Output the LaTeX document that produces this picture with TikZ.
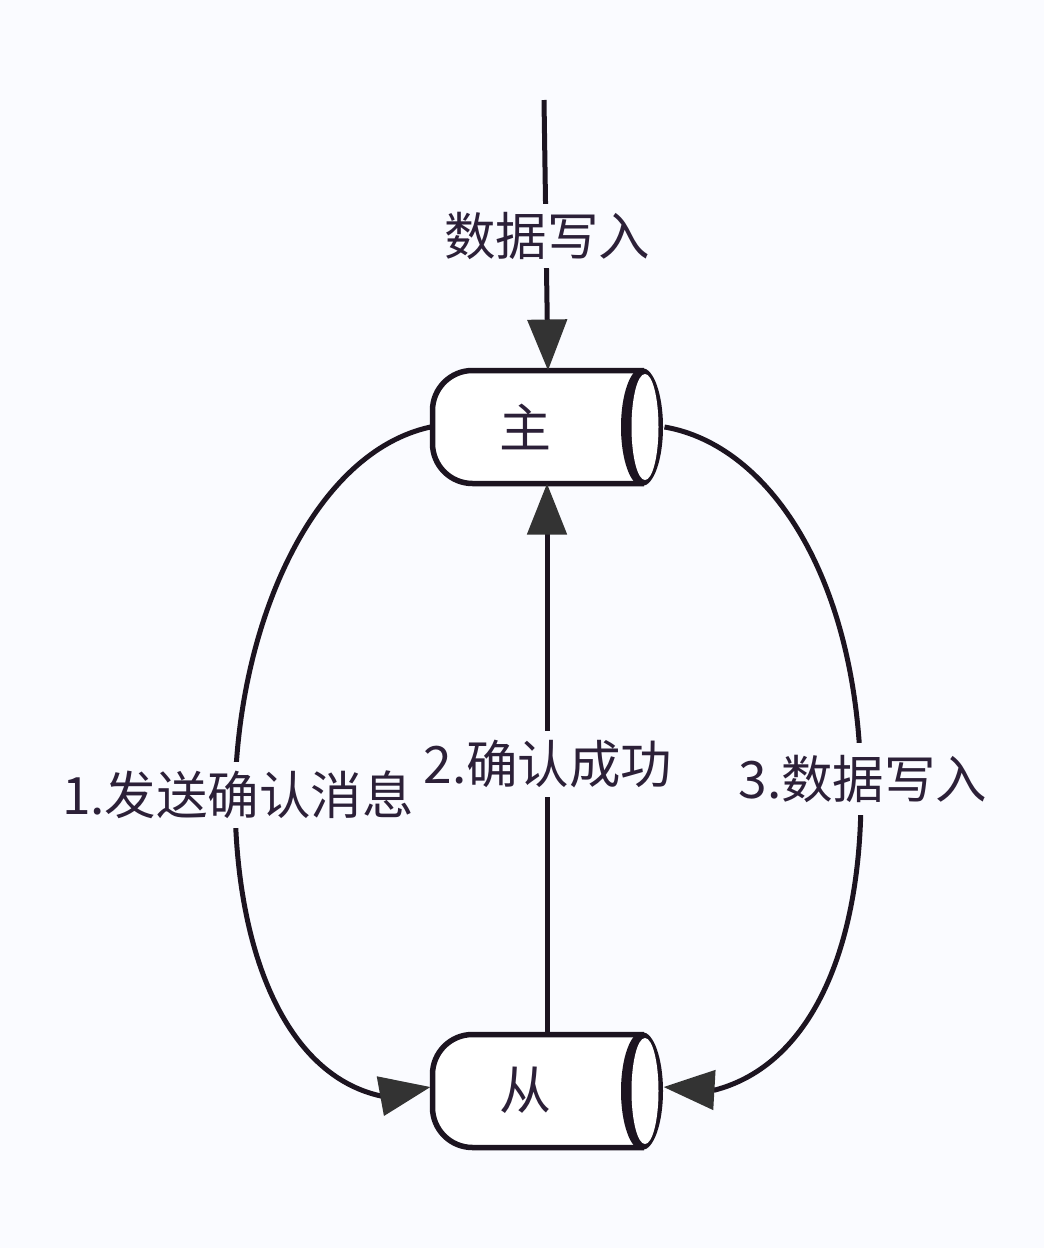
\documentclass[tikz,border=0pt]{standalone}
\usepackage{fontspec}
\setmainfont{Noto Sans CJK SC}
\usetikzlibrary{arrows.meta}
\definecolor{bgc}{HTML}{FAFBFF}
\definecolor{ink}{HTML}{1C1420}
\definecolor{headc}{HTML}{333333}
\definecolor{txt}{HTML}{2C2038}
\tikzset{
  cyl/.style={minimum width=229pt,minimum height=113pt,inner sep=0pt,outer sep=0pt},
  conn/.style={draw=ink,line width=5pt,-{Triangle[length=51pt,width=39pt,fill=headc,color=headc]}},
  lbl/.style={font=\fontsize{51.5}{51.5}\selectfont,text=txt,fill=bgc,inner sep=3pt},
  inner/.style={font=\fontsize{52}{52}\selectfont,text=txt,inner sep=0pt}
}
\newcommand{\cylshape}[1]{%
  \draw[ink,line width=5.5pt,fill=white,rounded corners=40pt]
    ([xshift=97pt]#1.north) -- (#1.north west) -- (#1.south west) -- ([xshift=97pt]#1.south);
  \fill[ink] ([xshift=95pt]#1.center) ellipse [x radius=21pt,y radius=59pt];
  \fill[white] ([xshift=98pt]#1.center) ellipse [x radius=13.5pt,y radius=53pt];
}
\begin{document}
\begin{tikzpicture}[x=1pt,y=-1pt]
\useasboundingbox[fill=bgc] (0,0) rectangle (1044,1248);
\node[cyl] (zhu) at (547,427) {};
\node[cyl] (cong) at (547,1091) {};
\cylshape{zhu}
\cylshape{cong}
\coordinate (src) at (544,100);
% connectors
\draw[conn] (src) -- ([xshift=1pt]zhu.north);
\draw[conn] (cong.north) -- (zhu.south);
\draw[conn] ([xshift=-2pt]zhu.west) .. controls (315,452) and (238,620) .. (235,795)
  .. controls (235,950) and (285,1075) .. (381,1096) -- ([xshift=-2pt,yshift=4pt]cong.west);
\draw[conn] ([xshift=3pt]zhu.east) .. controls (770,445) and (860,580) .. (861,790)
  .. controls (862,950) and (810,1065) .. (715,1090) -- ([xshift=2pt,yshift=4pt]cong.east);
% labels
\node[lbl,minimum height=64pt] (la) at (547,236) {数据写入};
\node[lbl,minimum height=66pt] (lb) at (238,795) {1.发送确认消息};
\node[lbl,minimum height=66pt] (lc) at (548,764) {2.确认成功};
\node[lbl,minimum height=72pt] (ld) at (863,779) {3.数据写入};
\node[inner] (tz) at (525,427) {主};
\node[inner] (tc) at (525,1090) {从};
\end{tikzpicture}
\end{document}
